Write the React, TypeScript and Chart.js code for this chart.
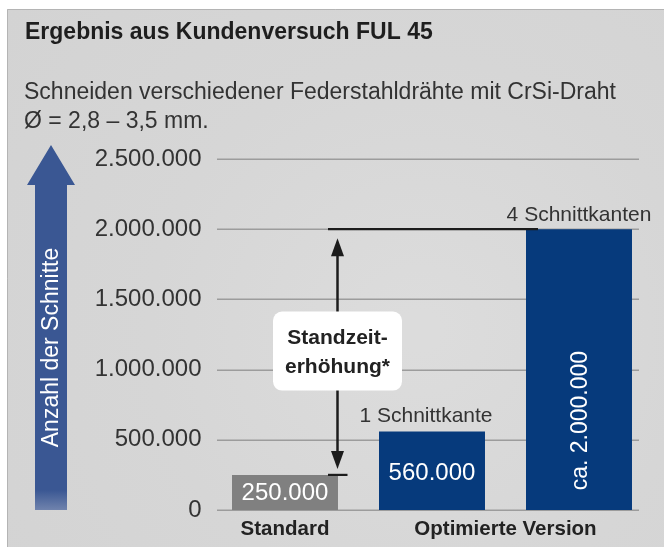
import React, { useEffect, useRef } from 'react';
import { Chart, registerables } from 'chart.js';
Chart.register(...registerables);

const categories = ['Standard', 'Optimiert (1 Schnittkante)', 'Optimiert (4 Schnittkanten)'];
const values = [250000, 560000, 2000000];
const valueLabels = ['250.000', '560.000', 'ca. 2.000.000'];
const barColors = ['#808080', '#063a7c', '#063a7c'];
const edgeLabels = ['', '1 Schnittkante', '4 Schnittkanten'];
const groupLabels = ['Standard', 'Optimierte Version'];
const groupMembers = [[0], [1, 2]];
const yMin = 0;
const yMax = 2500000;
const yStep = 500000;
const titleText = 'Ergebnis aus Kundenversuch FUL 45';
const subtitleLines = ['Schneiden verschiedener Federstahldrähte mit CrSi-Draht', 'Ø = 2,8 – 3,5 mm.'];
const yTitle = 'Anzahl der Schnitte';
const boxLines = ['Standzeit-', 'erhöhung*'];

const FONT = '"Liberation Sans", Arial, Helvetica, sans-serif';

const fmt = (v: number) => String(v).replace(/\B(?=(\d{3})+(?!\d))/g, '.');

const backgroundPlugin = {
  id: 'bgPanel',
  beforeDraw(chart: any) {
    const { ctx, width, height, chartArea } = chart;
    ctx.save();
    ctx.fillStyle = '#ffffff';
    ctx.fillRect(0, 0, width, height);
    // panel
    const px = 7, py = 9;
    const g = ctx.createRadialGradient(420, 330, 20, 420, 330, 520);
    g.addColorStop(0, '#dcdcdc');
    g.addColorStop(0.5, '#d6d6d6');
    g.addColorStop(1, '#d3d3d3');
    ctx.fillStyle = g;
    ctx.fillRect(px, py, width - px, height - py);
    ctx.strokeStyle = '#b4b4b4';
    ctx.lineWidth = 1;
    ctx.beginPath();
    ctx.moveTo(px + 0.5, height);
    ctx.lineTo(px + 0.5, py + 0.5);
    ctx.lineTo(width, py + 0.5);
    ctx.stroke();

    // title
    ctx.fillStyle = '#1e1e1e';
    ctx.textAlign = 'left';
    ctx.textBaseline = 'alphabetic';
    ctx.font = `bold 23px ${FONT}`;
    ctx.fillText(titleText, 25, 39);
    ctx.fillStyle = '#333333';
    ctx.font = `23px ${FONT}`;
    ctx.fillText(subtitleLines[0], 24, 99);
    ctx.fillText(subtitleLines[1], 24, 128);

    // left axis arrow
    const tip = chartArea.top - 14;
    const headBase = tip + 40;
    const bottom = chartArea.bottom;
    const sx0 = 35, sx1 = 67, hx0 = 27, hx1 = 75;
    const grad = ctx.createLinearGradient(0, bottom - 20, 0, bottom);
    grad.addColorStop(0, '#3a5793');
    grad.addColorStop(1, '#7083ad');
    ctx.fillStyle = '#3a5793';
    ctx.beginPath();
    ctx.moveTo((hx0 + hx1) / 2, tip);
    ctx.lineTo(hx1, headBase);
    ctx.lineTo(sx1, headBase);
    ctx.lineTo(sx1, bottom - 20);
    ctx.lineTo(sx0, bottom - 20);
    ctx.lineTo(sx0, headBase);
    ctx.lineTo(hx0, headBase);
    ctx.closePath();
    ctx.fill();
    ctx.fillStyle = grad;
    ctx.fillRect(sx0, bottom - 20.5, sx1 - sx0, 20.5);
    ctx.save();
    ctx.translate((sx0 + sx1) / 2 + 1, (headBase + bottom) / 2);
    ctx.rotate(-Math.PI / 2);
    ctx.fillStyle = '#ffffff';
    ctx.font = `23px ${FONT}`;
    ctx.textAlign = 'center';
    ctx.textBaseline = 'middle';
    ctx.fillText(yTitle, 0, 0);
    ctx.restore();
    ctx.restore();
  },
  beforeDatasetsDraw(chart: any) {
    const { ctx, chartArea } = chart;
    const ys = chart.scales.y;
    ctx.save();
    ctx.strokeStyle = '#9c9c9c';
    ctx.lineWidth = 1.5;
    ys.ticks.forEach((t: any) => {
      const y = Math.round(ys.getPixelForValue(t.value)) + 0.25;
      ctx.beginPath();
      ctx.moveTo(chartArea.left + 5.5, y);
      ctx.lineTo(chartArea.right - 13.5, y);
      ctx.stroke();
    });
    ctx.restore();
  },
};

const annotationPlugin = {
  id: 'annotations',
  afterDatasetsDraw(chart: any) {
    const { ctx, chartArea } = chart;
    const bars = chart.getDatasetMeta(0).data as any[];
    ctx.save();
    // value labels
    ctx.fillStyle = '#ffffff';
    ctx.textAlign = 'center';
    ctx.textBaseline = 'middle';
    ctx.font = `24px ${FONT}`;
    ctx.fillText(valueLabels[0], bars[0].x, (bars[0].y + bars[0].base) / 2 + 1);
    ctx.fillText(valueLabels[1], bars[1].x, bars[1].y + 42);
    ctx.save();
    ctx.translate(bars[2].x + 2, (bars[2].y + bars[2].base) / 2 + 51);
    ctx.rotate(-Math.PI / 2);
    ctx.font = `23px ${FONT}`;
    ctx.fillText(valueLabels[2], 0, 0);
    ctx.restore();

    // edge labels
    ctx.fillStyle = '#333333';
    ctx.font = `21px ${FONT}`;
    ctx.fillText(edgeLabels[1], bars[1].x - 6, bars[1].y - 15);
    ctx.fillText(edgeLabels[2], bars[2].x, bars[2].y - 14);

    // group labels
    ctx.fillStyle = '#222222';
    ctx.font = `bold 20.5px ${FONT}`;
    groupLabels.forEach((lbl, i) => {
      const m = groupMembers[i];
      const cx = m.reduce((s, k) => s + bars[k].x, 0) / m.length;
      ctx.fillText(lbl, cx, chartArea.bottom + 19);
    });

    // improvement arrow
    const yTop = bars[2].y;
    const yBot = bars[0].y;
    const xA = bars[0].x + 52.5;
    ctx.strokeStyle = '#1c1c1c';
    ctx.fillStyle = '#1c1c1c';
    ctx.lineWidth = 2.2;
    ctx.beginPath();
    ctx.moveTo(xA - 9.5, yTop);
    ctx.lineTo(bars[2].x - bars[2].width / 2 + 12, yTop);
    ctx.stroke();
    ctx.beginPath();
    ctx.moveTo(xA - 9.5, yBot);
    ctx.lineTo(xA + 10, yBot);
    ctx.stroke();
    const tipT = yTop + 9, tipB = yBot - 6, hh = 18, hw = 6.5;
    ctx.lineWidth = 2.5;
    ctx.beginPath();
    ctx.moveTo(xA, tipT + hh - 1);
    ctx.lineTo(xA, tipB - hh + 1);
    ctx.stroke();
    ctx.beginPath();
    ctx.moveTo(xA, tipT);
    ctx.lineTo(xA + hw, tipT + hh);
    ctx.lineTo(xA - hw, tipT + hh);
    ctx.closePath();
    ctx.fill();
    ctx.beginPath();
    ctx.moveTo(xA, tipB);
    ctx.lineTo(xA + hw, tipB - hh);
    ctx.lineTo(xA - hw, tipB - hh);
    ctx.closePath();
    ctx.fill();

    // white box
    const bw = 129, bh = 79;
    const cy = (yTop + yBot) / 2 - 1;
    const bx = xA - bw / 2, by = cy - bh / 2;
    ctx.fillStyle = '#ffffff';
    ctx.beginPath();
    if ((ctx as any).roundRect) {
      (ctx as any).roundRect(bx, by, bw, bh, 9);
    } else {
      ctx.rect(bx, by, bw, bh);
    }
    ctx.fill();
    ctx.fillStyle = '#222222';
    ctx.font = `bold 21px ${FONT}`;
    ctx.fillText(boxLines[0], xA, cy - 13);
    ctx.fillText(boxLines[1], xA, cy + 16);
    ctx.restore();
  },
};

export default function App() {
  const ref = useRef<HTMLCanvasElement | null>(null);
  useEffect(() => {
    if (!ref.current) return;
    const chart = new Chart(ref.current, {
      type: 'bar',
      data: {
        labels: categories,
        datasets: [
          {
            data: values,
            backgroundColor: barColors,
            borderWidth: 0,
            barPercentage: 0.721,
            categoryPercentage: 1,
          },
        ],
      },
      options: {
        responsive: false,
        animation: false,
        events: [],
        layout: { padding: { left: 0, right: 11.5, top: 159, bottom: 37 } },
        plugins: { legend: { display: false }, tooltip: { enabled: false }, title: { display: false } },
        scales: {
          x: { display: false, offset: true },
          y: {
            min: yMin,
            max: yMax,
            grid: { display: false, drawTicks: false },
            border: { display: false },
            afterFit: (scale: any) => {
              scale.width = 211.5;
            },
            ticks: {
              stepSize: yStep,
              padding: 10,
              color: '#333333',
              font: { family: FONT, size: 24 },
              callback: (v: any) => fmt(Number(v)),
            },
          },
        },
      },
      plugins: [backgroundPlugin, annotationPlugin],
    });
    return () => chart.destroy();
  }, []);
  return (
    <div style={{ position: 'absolute', left: 0, top: 0, width: 664, height: 547 }}>
      <canvas ref={ref} width={664} height={547} style={{ display: 'block', width: 664, height: 547 }} />
    </div>
  );
}
